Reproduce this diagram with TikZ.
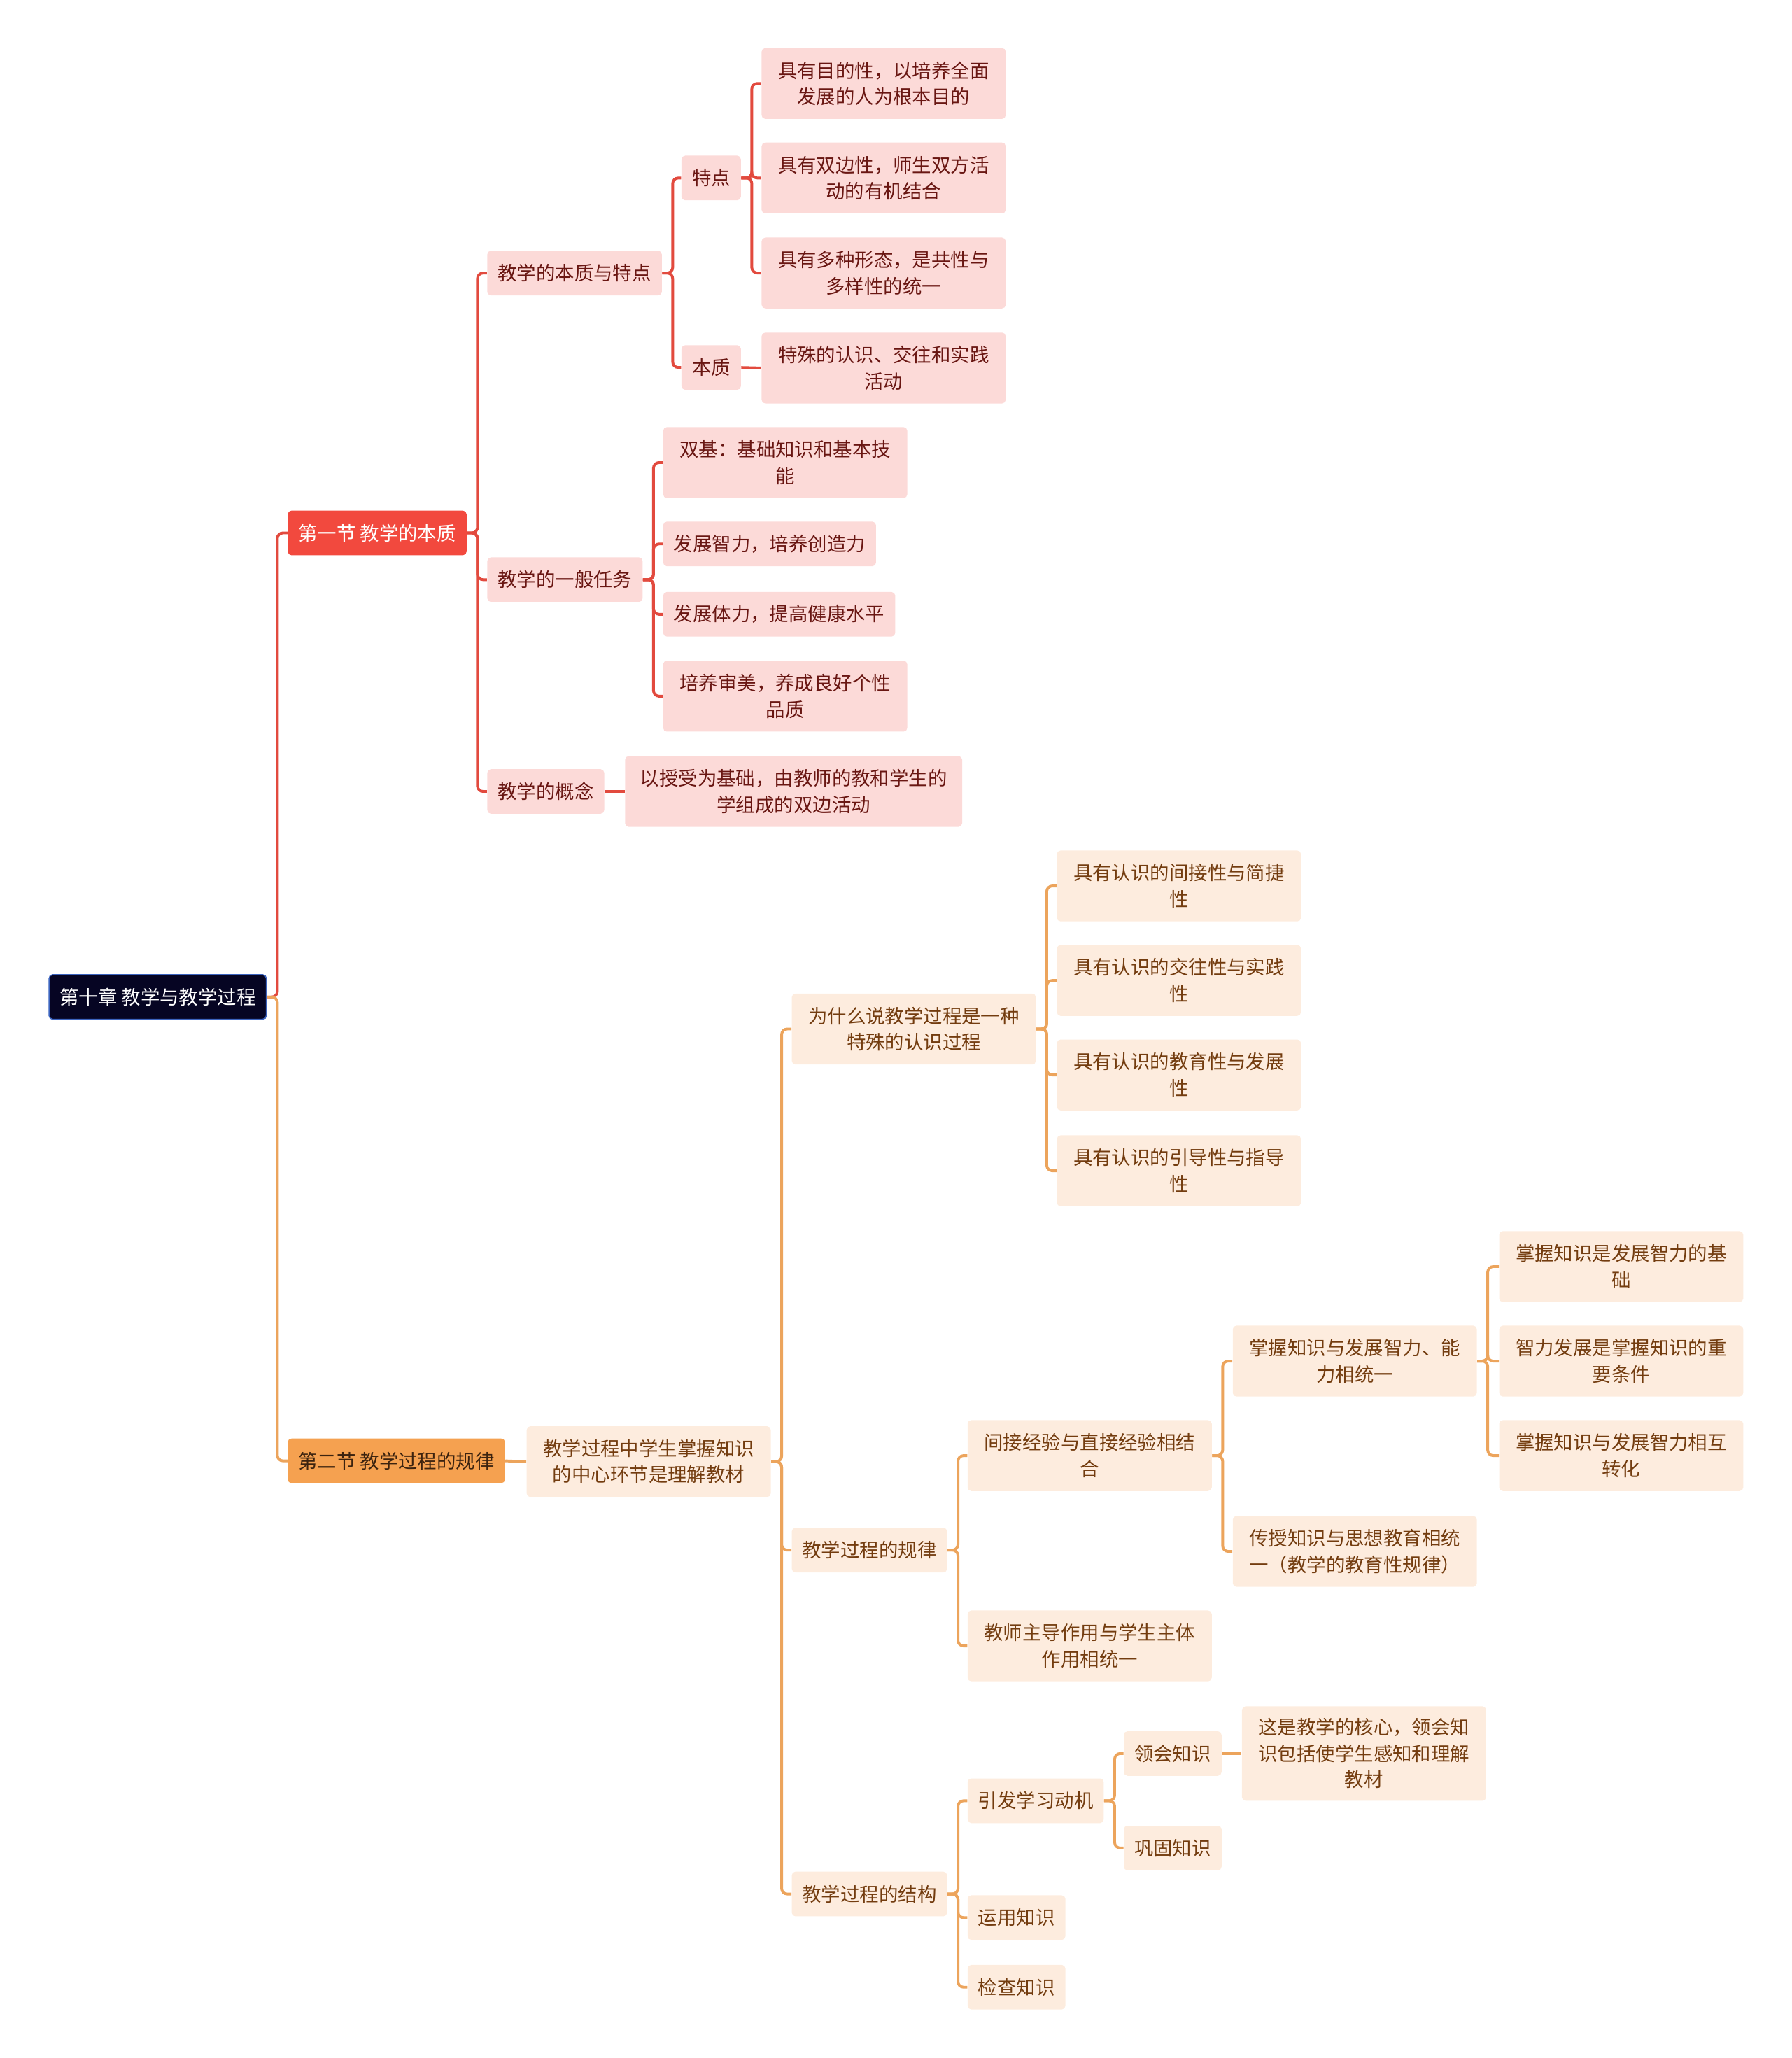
\documentclass[tikz,border=0pt]{standalone}
\usepackage{fontspec}
\usepackage{xcolor}
\usepackage{tikz}
\newfontfamily\cjk{Noto Sans CJK SC}
\definecolor{rootnavy}{RGB}{6,5,35}
\definecolor{rootblue}{RGB}{60,100,190}
\definecolor{secred}{RGB}{242,73,62}
\definecolor{secorange}{RGB}{245,161,80}
\definecolor{secorgtext}{RGB}{60,35,15}
\definecolor{redfill}{RGB}{252,218,216}
\definecolor{redtext}{RGB}{105,22,18}
\definecolor{redline}{RGB}{226,74,62}
\definecolor{orgfill}{RGB}{253,236,222}
\definecolor{orgtext}{RGB}{115,60,15}
\definecolor{orgline}{RGB}{236,164,92}

\begin{document}
\begin{tikzpicture}[
  % ── node styles ──────────────────────────────────────────────────────────
  box/.style={
    rectangle, rounded corners=2pt, anchor=west, align=center,
    inner xsep=0.2cm, inner ysep=2pt, minimum height=0.85cm,
    font=\cjk\fontsize{10.4}{14.2}\selectfont
  },
  rootbox/.style={box, fill=rootnavy, draw=rootblue, line width=0.6pt, text=white},
  redsec/.style={box, fill=secred, text=white},
  orgsec/.style={box, fill=secorange, text=secorgtext},
  redbox/.style={box, fill=redfill, text=redtext},
  orgbox/.style={box, fill=orgfill, text=orgtext},
  % multi-line boxes
  twoline/.style={minimum height=1.35cm},
  threeline/.style={minimum height=1.8cm},
  wide/.style={minimum width=4.65cm},
  % elbow connectors
  redlink/.style={draw=redline, line width=1.5pt, rounded corners=3pt},
  orglink/.style={draw=orgline, line width=1.5pt, rounded corners=3pt},
]

\useasboundingbox (0,0) rectangle (34.125,-39.2);

% ── Root and sections ───────────────────────────────────────────────────────
\node[rootbox] (root) at (0.925,-18.99) {第十章 教学与教学过程};
\node[redsec]  (s1)   at (5.475,-10.15) {第一节 教学的本质};
\node[orgsec]  (s2)   at (5.475,-27.825) {第二节 教学过程的规律};

% ── Section 1 ───────────────────────────────────────────────────────────────
\node[redbox] (nat)     at (9.275,-5.2)   {教学的本质与特点};
\node[redbox] (task)    at (9.275,-11.04) {教学的一般任务};
\node[redbox] (concept) at (9.275,-15.075) {教学的概念};

\node[redbox] (feat) at (12.975,-3.39) {特点};
\node[redbox] (ess)  at (12.975,-7.0)  {本质};

\node[redbox, twoline, wide] (f1) at (14.5,-1.59) {具有目的性，以培养全面\\发展的人为根本目的};
\node[redbox, twoline, wide] (f2) at (14.5,-3.39) {具有双边性，师生双方活\\动的有机结合};
\node[redbox, twoline, wide] (f3) at (14.5,-5.2)  {具有多种形态，是共性与\\多样性的统一};
\node[redbox, twoline, wide] (e1) at (14.5,-7.01) {特殊的认识、交往和实践\\活动};

\node[redbox, twoline, wide] (t1) at (12.625,-8.81)  {双基：基础知识和基本技\\能};
\node[redbox]                (t2) at (12.625,-10.36) {发展智力，培养创造力};
\node[redbox]                (t3) at (12.625,-11.7)  {发展体力，提高健康水平};
\node[redbox, twoline, wide] (t4) at (12.625,-13.26) {培养审美，养成良好个性\\品质};

\node[redbox, twoline, minimum width=6.42cm] (c1) at (11.9,-15.075)
  {以授受为基础，由教师的教和学生的\\学组成的双边活动};

% ── Section 2 ───────────────────────────────────────────────────────────────
\node[orgbox, twoline, wide] (key) at (10.025,-27.84) {教学过程中学生掌握知识\\的中心环节是理解教材};

\node[orgbox, twoline, wide] (why)    at (15.075,-19.6)   {为什么说教学过程是一种\\特殊的认识过程};
\node[orgbox]                (law)    at (15.075,-29.525) {教学过程的规律};
\node[orgbox]                (struct) at (15.075,-36.075) {教学过程的结构};

\node[orgbox, twoline, wide] (w1) at (20.125,-16.875) {具有认识的间接性与简捷\\性};
\node[orgbox, twoline, wide] (w2) at (20.125,-18.675) {具有认识的交往性与实践\\性};
\node[orgbox, twoline, wide] (w3) at (20.125,-20.475) {具有认识的教育性与发展\\性};
\node[orgbox, twoline, wide] (w4) at (20.125,-22.3)   {具有认识的引导性与指导\\性};

\node[orgbox, twoline, wide] (l1) at (18.425,-27.725) {间接经验与直接经验相结\\合};
\node[orgbox, twoline, wide] (l2) at (18.425,-31.35)  {教师主导作用与学生主体\\作用相统一};

\node[orgbox, twoline, wide] (ind1) at (23.475,-25.925) {掌握知识与发展智力、能\\力相统一};
\node[orgbox, twoline, wide] (ind2) at (23.475,-29.55)  {传授知识与思想教育相统\\一（教学的教育性规律）};

\node[orgbox, twoline, wide] (m1) at (28.55,-24.125) {掌握知识是发展智力的基\\础};
\node[orgbox, twoline, wide] (m2) at (28.55,-25.925) {智力发展是掌握知识的重\\要条件};
\node[orgbox, twoline, wide] (m3) at (28.55,-27.725) {掌握知识与发展智力相互\\转化};

\node[orgbox] (st1) at (18.425,-34.3)  {引发学习动机};
\node[orgbox] (st2) at (18.425,-36.525) {运用知识};
\node[orgbox] (st3) at (18.425,-37.85) {检查知识};

\node[orgbox] (mo1) at (21.4,-33.4) {领会知识};
\node[orgbox] (mo2) at (21.4,-35.2) {巩固知识};

\node[orgbox, threeline, wide] (core) at (23.65,-33.4)
  {这是教学的核心，领会知\\识包括使学生感知和理解\\教材};

% ── Connectors: red branch ──────────────────────────────────────────────────
\draw[redlink] (root.east) -- ++(0.2,0) |- (s1.west);
\foreach \c in {nat,task,concept}
  \draw[redlink] (s1.east) -- ++(0.2,0) |- (\c.west);
\foreach \c in {feat,ess}
  \draw[redlink] (nat.east) -- ++(0.2,0) |- (\c.west);
\foreach \c in {f1,f2,f3}
  \draw[redlink] (feat.east) -- ++(0.2,0) |- (\c.west);
\draw[redlink] (ess.east) -- (e1.west);
\foreach \c in {t1,t2,t3,t4}
  \draw[redlink] (task.east) -- ++(0.2,0) |- (\c.west);
\draw[redlink] (concept.east) -- (c1.west);

% ── Connectors: orange branch ───────────────────────────────────────────────
\draw[orglink] (root.east) -- ++(0.2,0) |- (s2.west);
\draw[orglink] (s2.east) -- (key.west);
\foreach \c in {why,law,struct}
  \draw[orglink] (key.east) -- ++(0.2,0) |- (\c.west);
\foreach \c in {w1,w2,w3,w4}
  \draw[orglink] (why.east) -- ++(0.2,0) |- (\c.west);
\foreach \c in {l1,l2}
  \draw[orglink] (law.east) -- ++(0.2,0) |- (\c.west);
\foreach \c in {ind1,ind2}
  \draw[orglink] (l1.east) -- ++(0.2,0) |- (\c.west);
\foreach \c in {m1,m2,m3}
  \draw[orglink] (ind1.east) -- ++(0.2,0) |- (\c.west);
\foreach \c in {st1,st2,st3}
  \draw[orglink] (struct.east) -- ++(0.2,0) |- (\c.west);
\foreach \c in {mo1,mo2}
  \draw[orglink] (st1.east) -- ++(0.2,0) |- (\c.west);
\draw[orglink] (mo1.east) -- (core.west);

\end{tikzpicture}
\end{document}
